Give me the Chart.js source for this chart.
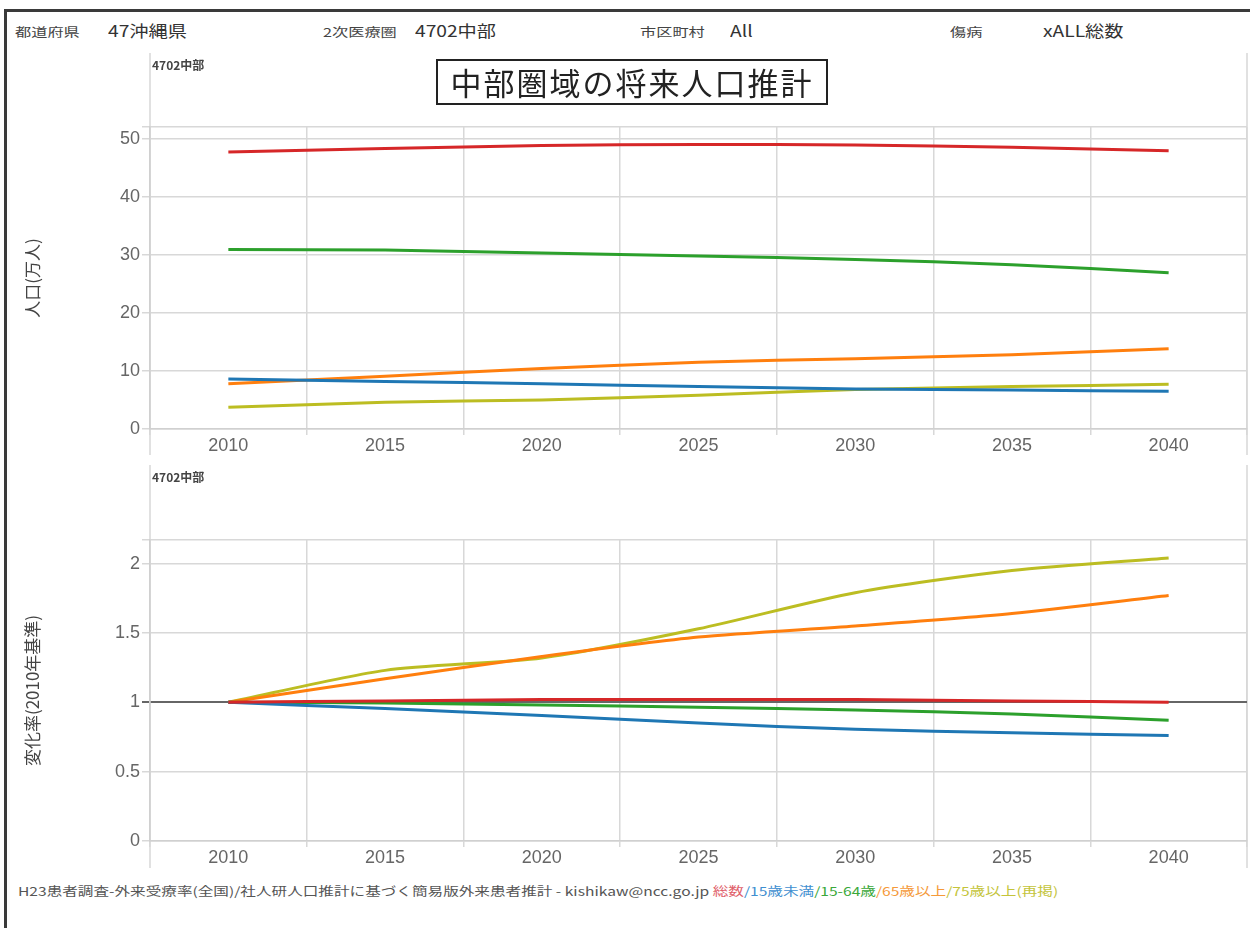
<!DOCTYPE html>
<html>
<head>
<meta charset="utf-8">
<script src="https://cdn.jsdelivr.net/npm/chart.js@4.4.1/dist/chart.umd.min.js"></script>
<style>
body{margin:0;background:#fff;width:1250px;height:928px;overflow:hidden;position:relative;font-family:"Noto Sans CJK JP","Noto Sans",sans-serif;color:#333}
.frame{position:absolute;left:4px;top:9px;width:1300px;height:1000px;border:3px solid #3a3a3a}
.t{position:absolute;white-space:nowrap;transform-origin:left center}
.sm{font-size:12px;color:#444;transform:scaleX(1.35)}
.lg{font-size:16px;color:#333;transform:scaleX(1.2)}
.title{position:absolute;left:436px;top:59px;width:388px;height:42px;border:2px solid #222;font-size:31px;line-height:42px;text-align:center;color:#222;letter-spacing:2px}
.area{position:absolute;font-size:12px;font-weight:bold;color:#444}
.foot{font-size:12px;color:#555;transform:scaleX(1.3)}
canvas{position:absolute}
</style>
</head>
<body>
<div class="frame"></div>
<div class="t sm" style="left:15px;top:23px">都道府県</div>
<div class="t lg" style="left:108px;top:18px">47沖縄県</div>
<div class="t sm" style="left:323px;top:23px">2次医療圏</div>
<div class="t lg" style="left:415px;top:18px">4702中部</div>
<div class="t sm" style="left:640px;top:23px">市区町村</div>
<div class="t lg" style="left:730px;top:18px">All</div>
<div class="t sm" style="left:950px;top:23px">傷病</div>
<div class="t lg" style="left:1043px;top:18px">xALL総数</div>

<div style="position:absolute;left:20px;top:53px;width:1230px;height:402px"><canvas id="popChart"></canvas></div>
<div style="position:absolute;left:20px;top:465px;width:1230px;height:403px"><canvas id="rateChart"></canvas></div>

<div class="area" style="left:152px;top:56px">4702中部</div>
<div class="area" style="left:152px;top:468px">4702中部</div>
<div class="title">中部圏域の将来人口推計</div>

<div class="t foot" style="left:18px;top:882px">H23患者調査-外来受療率(全国)/社人研人口推計に基づく簡易版外来患者推計 - kishikaw@ncc.go.jp <span style="color:#e0606a">総数</span><span style="color:#3f8fd0">/15歳未満</span><span style="color:#3aa83a">/15-64歳</span><span style="color:#f59a3a">/65歳以上</span><span style="color:#c4c43a">/75歳以上(再掲)</span></div>

<script>
const years = ["2010", "2015", "2020", "2025", "2030", "2035", "2040"]

// 人口(万人)
const total = [47.7, 48.3, 48.8, 49.0, 48.9, 48.5, 47.9]
const under15 = [8.6, 8.2, 7.8, 7.3, 6.9, 6.7, 6.5]
const age15to64 = [30.9, 30.8, 30.3, 29.8, 29.2, 28.3, 26.9]
const over65 = [7.8, 9.1, 10.4, 11.5, 12.1, 12.8, 13.8]
const over75 = [3.75, 4.6, 5.0, 5.8, 6.8, 7.3, 7.7]

// 変化率(2010年基準)
const totalRate = [1, 1.01, 1.02, 1.02, 1.02, 1.01, 1.0]
const under15Rate = [1, 0.955, 0.905, 0.85, 0.805, 0.78, 0.76]
const age15to64Rate = [1, 0.995, 0.98, 0.965, 0.945, 0.915, 0.87]
const over65Rate = [1, 1.17, 1.33, 1.47, 1.55, 1.64, 1.77]
const over75Rate = [1, 1.23, 1.32, 1.53, 1.79, 1.95, 2.04]

const popTicks = [0, 10, 20, 30, 40, 50]
const rateTicks = [0, 0.5, 1, 1.5, 2]

const colors = ["#d62728", "#1f77b4", "#2ca02c", "#ff7f0e", "#bcbd22"]
const names = ["総数", "15歳未満", "15-64歳", "65歳以上", "75歳以上(再掲)"]

// widget frame lines either side of the plot
const framePlugin = {
  id: "frame",
  beforeDraw(chart){
    const c = chart.ctx, a = chart.chartArea
    c.save()
    c.strokeStyle = "#d8d8d8"
    c.lineWidth = 1.5
    c.beginPath()
    c.moveTo(a.left, 0); c.lineTo(a.left, chart.height)
    c.moveTo(a.right, 0); c.lineTo(a.right, chart.height)
    c.stroke()
    c.restore()
  }
}

function makeChart(id, series, yTicks, yMax, yTitle, xHeight, padTop){
  const datasets = series.map((d, i) => ({
    label: names[i],
    data: d,
    borderColor: colors[i],
    borderWidth: 3,
    pointRadius: 0,
    tension: 0.25,
    fill: false
  }))
  return new Chart(document.getElementById(id), {
    type: "line",
    data: { labels: years, datasets: datasets },
    plugins: [framePlugin],
    options: {
      responsive: true,
      maintainAspectRatio: false,
      animation: false,
      layout: { padding: { top: padTop, right: 3, left: 0, bottom: 0 } },
      plugins: { legend: { display: false }, tooltip: { enabled: false } },
      scales: {
        x: {
          offset: true,
          grid: { offset: true, color: "#d8d8d8", lineWidth: 1.5, tickLength: 6 },
          border: { color: "#d0d0d0", width: 1.5 },
          ticks: { color: "#666", font: { size: 18, family: "Liberation Sans" }, padding: 0, maxRotation: 0 },
          afterFit: s => { s.height = xHeight }
        },
        y: {
          min: 0,
          max: yMax,
          afterBuildTicks: s => { s.ticks = yTicks.map(v => ({ value: v })).concat([{ value: yMax }]) },
          afterFit: s => { s.width = 130 },
          grid: {
            color: c => c.tick && c.tick.value === 1 && yMax < 5 ? "#666" : "#d8d8d8",
            lineWidth: c => c.tick && c.tick.value === 1 && yMax < 5 ? 2 : 1.5,
            tickLength: 8
          },
          border: { color: "#d0d0d0", width: 1.5 },
          ticks: {
            color: "#666",
            font: { size: 18, family: "Liberation Sans" },
            padding: 2,
            callback: v => yTicks.includes(v) ? v : ""
          },
          title: { display: true, text: yTitle, color: "#444", font: { size: 17, family: "Noto Sans CJK JP" }, padding: 2 }
        }
      }
    }
  })
}

makeChart("popChart", [total, under15, age15to64, over65, over75], popTicks, 52, "人口(万人)", 26, 74)
makeChart("rateChart", [totalRate, under15Rate, age15to64Rate, over65Rate, over75Rate], rateTicks, 2.17, "変化率(2010年基準)", 27, 75)
</script>
</body>
</html>
